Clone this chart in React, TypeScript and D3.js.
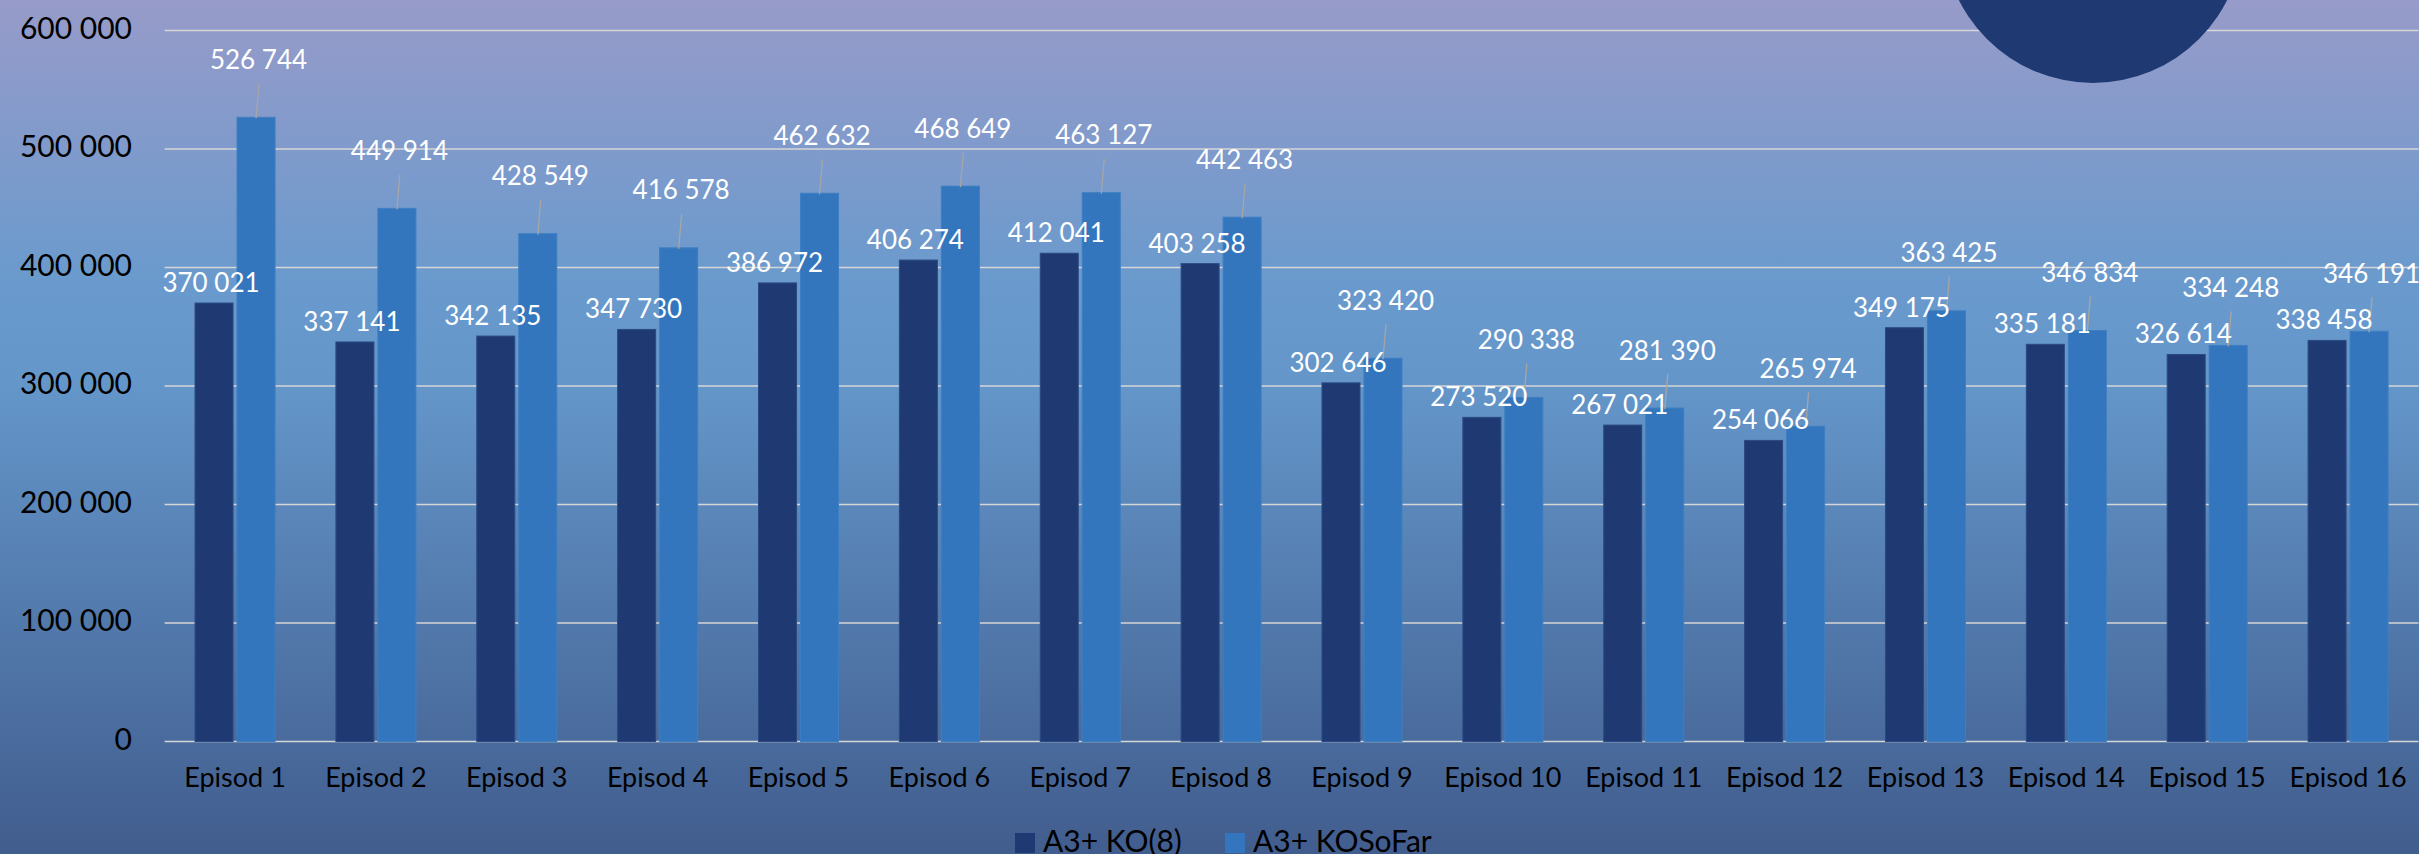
import React from "react";
import * as d3 from "d3";

const categories = [
  "Episod 1", "Episod 2", "Episod 3", "Episod 4", "Episod 5", "Episod 6", "Episod 7", "Episod 8",
  "Episod 9", "Episod 10", "Episod 11", "Episod 12", "Episod 13", "Episod 14", "Episod 15", "Episod 16",
];
const ko8 = [370021, 337141, 342135, 347730, 386972, 406274, 412041, 403258, 302646, 273520, 267021, 254066, 349175, 335181, 326614, 338458];
const koSoFar = [526744, 449914, 428549, 416578, 462632, 468649, 463127, 442463, 323420, 290338, 281390, 265974, 363425, 346834, 334248, 346191];
const seriesNames = ["A3+ KO(8)", "A3+ KOSoFar"];
const seriesColors = ["#1f3a72", "#3476bd"];
const yTicks = [0, 100000, 200000, 300000, 400000, 500000, 600000];

const W = 2419;
const H = 854;
const FONT = "Lato, 'Noto Sans', sans-serif";

const fmt = (v: number) => d3.format(",")(v).replace(/,/g, " ");

export default function App() {
  const x = d3.scaleBand<string>().domain(categories).range([164.6, 2418.5]).padding(0);
  const inner = d3
    .scaleBand<string>()
    .domain(seriesNames)
    .range([(x.bandwidth() - 80) / 2, (x.bandwidth() + 80) / 2])
    .paddingInner(4 / 42);
  const y = d3.scaleLinear().domain([0, 600000]).range([741.5, 30.5]);
  const values = [ko8, koSoFar];

  return (
    <svg
      width={W}
      height={H}
      style={{ position: "absolute", left: 0, top: 0, display: "block" }}
      fontFamily={FONT}
    >
      <defs>
        <linearGradient id="bg" x1="0" y1="0" x2="0" y2="1">
          <stop offset="0%" stopColor="#979bc9" />
          <stop offset="33%" stopColor="#6a9acd" />
          <stop offset="45%" stopColor="#6496ca" />
          <stop offset="100%" stopColor="#415d8e" />
        </linearGradient>
      </defs>
      <rect x={0} y={0} width={W} height={H} fill="url(#bg)" />

      {/* gridlines */}
      {yTicks.map((t) => (
        <line
          key={"g" + t}
          x1={164.6}
          x2={2418.5}
          y1={y(t)}
          y2={y(t)}
          stroke="#d6d6d6"
          strokeWidth={1.6}
        />
      ))}

      {/* y labels */}
      {yTicks.map((t) => (
        <text
          key={"yl" + t}
          x={132}
          y={y(t) + 8}
          textAnchor="end"
          fontSize={30}
          fill="#000"
        >
          {fmt(t)}
        </text>
      ))}

      {/* decorative circle */}
      <circle cx={2093} cy={-67} r={150} fill="#1f3a72" />

      {/* bars */}
      {categories.map((c, i) =>
        seriesNames.map((s, si) => {
          const v = values[si][i];
          const bx = (x(c) as number) + (inner(s) as number);
          return (
            <rect
              key={c + s}
              x={bx}
              y={y(v)}
              width={inner.bandwidth()}
              height={y(0) - y(v)}
              fill={seriesColors[si]}
              stroke={si === 0 ? "#2b4a85" : "#3d7fc2"}
              strokeWidth={1}
            />
          );
        })
      )}

      {/* leader lines for second series */}
      {categories.map((c, i) => {
        const v = koSoFar[i];
        const cx = (x(c) as number) + (inner(seriesNames[1]) as number) + inner.bandwidth() / 2;
        return (
          <line
            key={"ld" + c}
            x1={cx + 3}
            y1={y(v) - 34}
            x2={cx}
            y2={y(v) + 1}
            stroke="#a6a6a6"
            strokeWidth={1.3}
          />
        );
      })}

      {/* data labels */}
      {categories.map((c, i) => {
        const v0 = ko8[i];
        const v1 = koSoFar[i];
        const cx0 = (x(c) as number) + (inner(seriesNames[0]) as number) + inner.bandwidth() / 2;
        const cx1 = (x(c) as number) + (inner(seriesNames[1]) as number) + inner.bandwidth() / 2;
        return (
          <g key={"dl" + c} fill="#fff" fontSize={26} textAnchor="middle">
            <text x={cx0 - 3} y={y(v0) - 11}>{fmt(v0)}</text>
            <text x={cx1 + 2.5} y={y(v1) - 48.5}>{fmt(v1)}</text>
          </g>
        );
      })}

      {/* x labels */}
      {categories.map((c) => (
        <text
          key={"xl" + c}
          x={(x(c) as number) + x.bandwidth() / 2}
          y={787}
          textAnchor="middle"
          fontSize={27}
          fill="#000"
        >
          {c}
        </text>
      ))}

      {/* legend */}
      <g>
        <rect x={1015} y={833} width={20} height={20} fill={seriesColors[0]} />
        <text x={1043} y={852} fontSize={30} fill="#000">{seriesNames[0]}</text>
        <rect x={1225} y={833} width={20} height={20} fill={seriesColors[1]} />
        <text x={1253} y={852} fontSize={30} fill="#000">{seriesNames[1]}</text>
      </g>
    </svg>
  );
}
